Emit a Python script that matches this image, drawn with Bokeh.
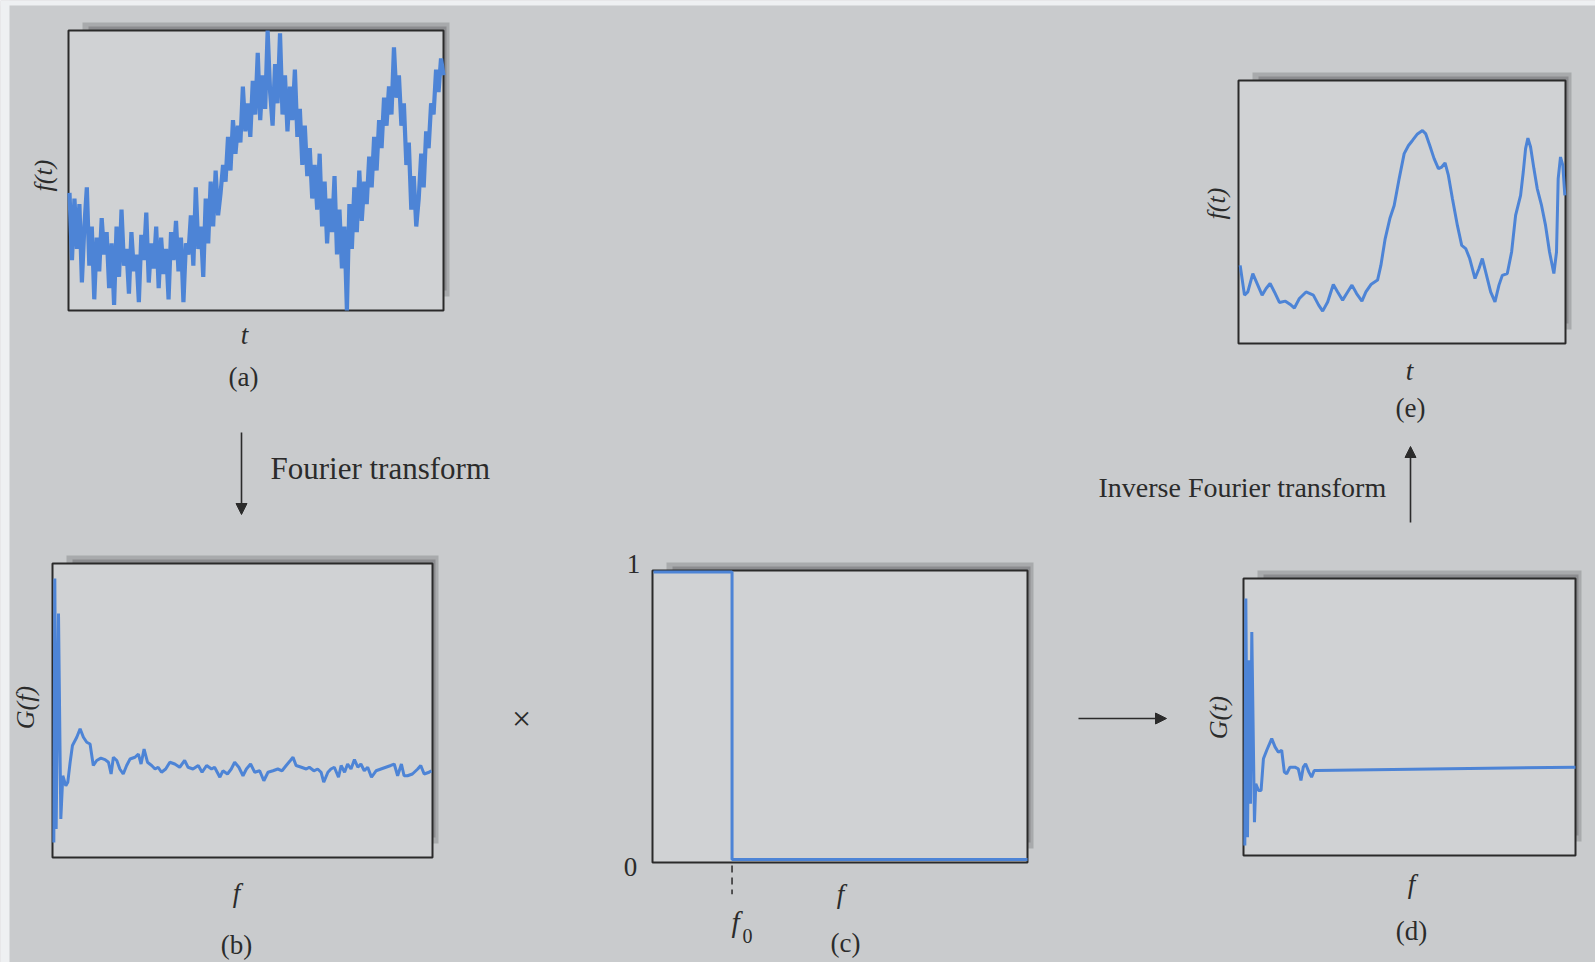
import numpy as np
from bokeh.plotting import figure
from bokeh.models import Range1d, Arrow, NormalHead
from bokeh.core.properties import value
from bokeh.embed import file_html
from bokeh.resources import INLINE

# ---------------- data ----------------
# (a) noisy signal f(t): samples, as fraction of the panel height
A_F = [0.42, 0.18, 0.40, 0.22, 0.38, 0.10, 0.30, 0.44, 0.16,
       0.30, 0.04, 0.26, 0.14, 0.33, 0.20, 0.28, 0.08,
       0.24, 0.02, 0.30, 0.12, 0.36, 0.16, 0.22, 0.06,
       0.28, 0.14, 0.20, 0.03, 0.27, 0.18, 0.35, 0.10,
       0.24, 0.15, 0.30, 0.08, 0.26, 0.13, 0.22, 0.04,
       0.28, 0.18, 0.32, 0.14, 0.26, 0.03, 0.24, 0.20,
       0.34, 0.16, 0.44, 0.22, 0.30, 0.12, 0.40, 0.24,
       0.46, 0.30, 0.50, 0.34, 0.42, 0.52,
       0.46, 0.62, 0.50, 0.68, 0.56, 0.66,
       0.60, 0.80, 0.64, 0.74, 0.62, 0.82,
       0.70, 0.92, 0.68, 0.84, 0.72, 1.00,
       0.78, 0.66, 0.88, 0.74, 0.99, 0.70,
       0.84, 0.64, 0.80, 0.68, 0.86, 0.62,
       0.72, 0.52, 0.66, 0.48, 0.58, 0.40,
       0.52, 0.36, 0.56, 0.30, 0.46, 0.24,
       0.40, 0.28, 0.48, 0.20, 0.36, 0.15,
       0.30, 0.00, 0.38, 0.22, 0.44, 0.28,
       0.50, 0.32, 0.46, 0.38, 0.55, 0.44,
       0.62, 0.50, 0.68, 0.58, 0.76, 0.66,
       0.80, 0.70, 0.94, 0.76, 0.84, 0.66,
       0.74, 0.52, 0.60, 0.36, 0.48, 0.30,
       0.40, 0.56, 0.44, 0.64, 0.58, 0.74, 0.70,
       0.86, 0.78, 0.90, 0.84]

# (e) filtered signal f(t): t (0..98) and amplitude (0..100)
E_T = [0.2, 1.5, 2.5, 4.0, 5.5, 6.8, 8.0, 9.2, 10.5, 12.0, 13.8, 15.5, 16.5, 18.0,
       20.0, 22.2, 23.8, 25.0, 26.5, 28.2, 29.5, 31.0, 32.5, 33.8, 35.2, 36.8, 38.0,
       39.5, 41.5, 42.5, 43.8, 45.2, 46.5, 48.0, 49.5, 50.8, 52.0, 53.5, 55.0, 56.0,
       57.2, 58.5, 59.8, 60.8, 61.8, 62.8, 64.0, 65.5, 66.8, 68.0, 69.2, 70.8, 72.0,
       73.0, 74.0, 75.5, 76.8, 78.0, 79.0, 80.5, 81.8, 83.0, 84.5, 85.3, 86.0, 86.7,
       87.5, 88.5, 89.5, 90.8, 92.0, 93.2, 94.5, 95.3, 95.8, 96.5, 97.2, 97.8]
E_F = [29.7, 18.4, 19.6, 26.6, 22.2, 18.4, 20.9, 22.8, 19.6, 15.6, 16.1, 14.6, 13.5, 17.1,
       19.6, 18.4, 14.6, 12.3, 15.8, 22.4, 19.6, 16.5, 19.6, 22.2, 19.0, 16.1, 19.6,
       22.4, 24.1, 29.7, 39.9, 47.5, 52.5, 62.7, 72.2, 75.3, 77.2, 79.7, 81.0, 79.7,
       75.3, 70.3, 66.5, 67.1, 68.7, 63.9, 55.1, 44.9, 37.3, 36.1, 32.3, 24.7, 28.5,
       32.3, 27.2, 19.6, 15.8, 22.2, 25.9, 26.6, 34.8, 48.7, 56.3, 65.2, 74.1, 78.1,
       74.7, 66.5, 58.9, 52.5, 44.9, 34.8, 26.6, 34.8, 62.7, 70.9, 67.7, 56.3]

# (b) spectrum G(f): f (0..100) and amplitude (0..100)
B_FREQ = [0.09, 0.35, 0.70, 1.32, 1.93, 2.46, 3.25, 3.77, 4.39, 5.0, 6.14, 7.02, 7.89, 8.77,
          9.65, 10.1, 10.5, 11.4, 12.5, 13.6, 14.5, 15.2, 15.8, 16.7, 17.5, 18.4, 19.3,
          20.2, 21.5, 22.4, 23.1, 23.9, 24.8, 25.9, 26.8, 27.6, 28.5, 29.6, 30.7, 32.0,
          33.3, 34.6, 35.5, 36.8, 38.2, 39.2, 40.4, 41.7, 42.5, 43.9, 44.7, 45.9, 46.9,
          47.8, 48.9, 50.0, 50.9, 52.0, 53.1, 54.4, 55.5, 56.6, 57.9, 59.2, 60.3, 61.4,
          62.5, 63.2, 64.0, 65.4, 66.7, 67.5, 68.7, 69.7, 70.6, 71.3, 72.4, 73.2, 74.1,
          75.2, 75.9, 76.8, 77.6, 78.5, 79.4, 80.3, 81.1, 82.0, 82.9, 83.9, 85.1, 86.4,
          87.7, 89.0, 89.9, 90.8, 91.8, 92.5, 93.4, 94.7, 96.1, 96.9, 97.8, 99.1, 99.7]
B_G = [5.1, 94.9, 9.7, 83.0, 13.1, 27.8, 24.4, 25.6, 32.4, 38.1, 40.9, 43.8, 40.9, 39.2,
       38.6, 34.7, 31.3, 33.0, 33.8, 33.3, 32.4, 28.4, 34.1, 33.0, 30.1, 28.4, 31.3,
       33.5, 34.1, 35.2, 31.8, 36.9, 32.4, 31.3, 30.1, 30.7, 29.0, 30.1, 32.4, 31.8,
       30.7, 33.0, 30.7, 30.1, 31.3, 29.0, 31.3, 30.1, 30.7, 27.3, 29.5, 28.4, 30.1,
       32.4, 30.7, 27.8, 30.1, 31.8, 29.0, 29.5, 26.1, 29.0, 29.5, 30.1, 29.5, 31.3,
       33.0, 34.1, 31.3, 30.7, 30.1, 30.7, 29.5, 30.1, 29.0, 25.6, 29.0, 30.1, 30.7,
       27.3, 31.3, 29.0, 31.8, 30.1, 33.3, 30.7, 31.8, 29.5, 30.7, 27.3, 29.5, 30.1,
       30.7, 31.3, 31.8, 27.8, 31.8, 27.8, 27.8, 28.4, 30.1, 31.3, 28.4, 29.0, 29.5]

# (c) ideal low-pass filter: f (0..1) and gain
C_FREQ = [0.0, 0.21, 0.21, 1.0]
C_GAIN = [1.0, 1.0, 0.0, 0.0]
F0 = 0.21

# (d) filtered spectrum: f (0..100) and amplitude (0..100)
D_FREQ = [0.1, 0.4, 0.9, 1.4, 1.8, 2.2, 3.0, 3.4, 4.2, 5.0, 5.7, 6.7, 8.2, 9.2, 10.2,
          11.2, 12.0, 12.7, 13.7, 15.2, 16.2, 17.0, 17.7, 18.4, 19.4, 20.2, 21.0, 21.7, 99.7]
D_G = [3.6, 92.8, 6.6, 70.5, 18.7, 80.7, 12.0, 25.9, 23.5, 23.5, 34.9, 38.0, 42.2, 39.2,
       37.3, 38.0, 30.1, 29.5, 31.9, 31.9, 31.3, 27.1, 31.9, 33.1, 30.1, 28.3, 30.7, 30.7, 31.9]

# ---------------- styles / layout ----------------
W, H = 1595, 962
BG = "#c9cbcd"
PANEL_BG = "#d0d2d4"
INK = "#2b2b2b"
BLUE = "#4d84d6"
SERIF = value("Liberation Serif")

# panel frames in page pixels: left, right, top, bottom
PANELS = {
    "a": (68, 443, 30, 310),
    "e": (1238, 1565, 80, 343),
    "b": (52, 432, 563, 857),
    "c": (652, 1027, 570, 862),
    "d": (1243, 1575, 578, 855),
}

p = figure(width=W, height=H, x_range=Range1d(0, W), y_range=Range1d(H, 0),
           output_backend="svg", toolbar_location=None, min_border=0,
           x_axis_location=None, y_axis_location=None)
p.grid.visible = False
p.outline_line_color = None
p.background_fill_color = BG
p.border_fill_color = BG

# paper edges of the photograph
p.quad(left=[0, 0], right=[9, W], top=[0, 0], bottom=[H, 5],
       fill_color="#eef0f2", line_color=None)

keys = list(PANELS)
L = [PANELS[k][0] for k in keys]
R = [PANELS[k][1] for k in keys]
T = [PANELS[k][2] for k in keys]
B = [PANELS[k][3] for k in keys]

# soft shadow at the top/right of each frame
p.quad(left=[l + 14 for l in L], right=[r + 6 for r in R],
       top=[t - 8 for t in T], bottom=[b - 14 for b in B],
       fill_color="#6a6c6f", fill_alpha=0.35, line_color=None)
p.quad(left=[l + 20 for l in L], right=[r + 3 for r in R],
       top=[t - 4 for t in T], bottom=[b - 20 for b in B],
       fill_color="#55575a", fill_alpha=0.35, line_color=None)
p.quad(left=L, right=R, top=T, bottom=B, fill_color=PANEL_BG,
       line_color="#2a2a2a", line_width=2)


def sub(key, xs, ys):
    l, r, t, b = PANELS[key]
    return p.subplot(x_source=xs, y_source=ys,
                     x_target=Range1d(l + 1, r), y_target=Range1d(b, t))


sa = sub("a", Range1d(0, len(A_F) - 1), Range1d(0, 1))
sa.line(x=list(range(len(A_F))), y=A_F, line_color=BLUE, line_width=4.2)

se = sub("e", Range1d(0, 98), Range1d(0, 100))
se.line(x=E_T, y=E_F, line_color=BLUE, line_width=3)

sb = sub("b", Range1d(0, 100), Range1d(0, 100))
sb.line(x=B_FREQ, y=B_G, line_color=BLUE, line_width=3)

sc = sub("c", Range1d(0, 1), Range1d(-0.01, 1.005))
sc.line(x=C_FREQ, y=C_GAIN, line_color=BLUE, line_width=3)
sc.segment(x0=[F0], y0=[-0.02], x1=[F0], y1=[-0.12], line_color=INK,
           line_width=1.5, line_dash="7 5")

sd = sub("d", Range1d(0, 99.7), Range1d(0, 100))
sd.line(x=D_FREQ, y=D_G, line_color=BLUE, line_width=3)

# ---------------- texts ----------------
# italic axis variable letters
p.text(x=[244, 1409, 236, 840, 1411], y=[334, 370, 892, 893, 883],
       text=["t", "t", "f", "f", "f"], text_font=SERIF, text_font_style="italic",
       text_font_size="27px", text_color=INK, text_align="center", text_baseline="middle")

# panel tags
p.text(x=[243, 1410, 236, 845, 1411], y=[376, 407, 944, 942, 930],
       text=["(a)", "(e)", "(b)", "(c)", "(d)"], text_font=SERIF,
       text_font_size="27px", text_color=INK, text_align="center", text_baseline="middle")

# rotated y labels
p.text(x=[43, 1216, 25, 1218], y=[175, 203, 707, 717],
       text=["f(t)", "f(t)", "G(f)", "G(t)"], angle=np.pi / 2,
       text_font=SERIF, text_font_style="italic", text_font_size="26px",
       text_color=INK, text_align="center", text_baseline="middle")

# filter gain ticks
p.text(x=[633, 630], y=[563, 866], text=["1", "0"], text_font=SERIF,
       text_font_size="27px", text_color=INK, text_align="center", text_baseline="middle")

# f0
p.text(x=[735], y=[921], text=["f"], text_font=SERIF, text_font_style="italic",
       text_font_size="29px", text_color=INK, text_align="center", text_baseline="middle")
p.text(x=[747], y=[935], text=["0"], text_font=SERIF,
       text_font_size="20px", text_color=INK, text_align="center", text_baseline="middle")

# transform annotations
p.text(x=[270], y=[468], text=["Fourier transform"],
       text_font=SERIF, text_font_size="31px", text_color=INK,
       text_align="left", text_baseline="middle")
p.text(x=[1098], y=[487], text=["Inverse Fourier transform"],
       text_font=SERIF, text_font_size="28px", text_color=INK,
       text_align="left", text_baseline="middle")
p.text(x=[521], y=[718], text=["\u00d7"], text_font=SERIF, text_font_size="34px",
       text_color=INK, text_align="center", text_baseline="middle")

for (x0, y0, x1, y1) in [(241, 432, 241, 514), (1078, 718, 1166, 718), (1410, 522, 1410, 446)]:
    p.add_layout(Arrow(x_start=x0, y_start=y0, x_end=x1, y_end=y1,
                       line_color=INK, line_width=1.6,
                       end=NormalHead(size=11, fill_color=INK, line_color=INK, line_width=1)))

with open("out.html", "w") as fh:
    fh.write(file_html(p, INLINE))
